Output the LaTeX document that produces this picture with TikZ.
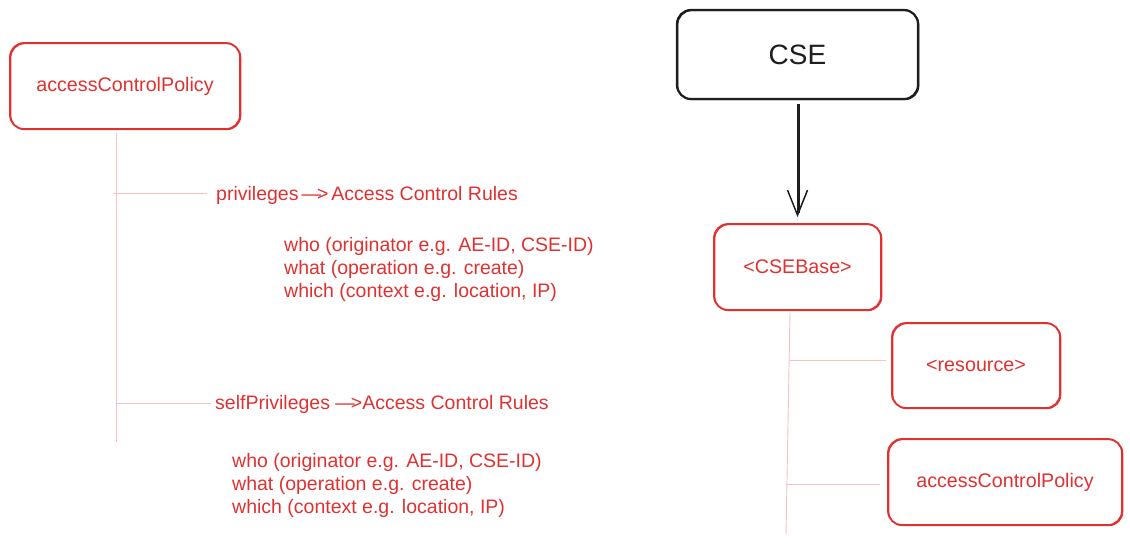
\documentclass[tikz,border=0pt]{standalone}
\usepackage{fontspec}
\setmainfont{Liberation Sans}
\usetikzlibrary{arrows.meta}
\definecolor{exred}{HTML}{E03131}
\definecolor{exdark}{HTML}{1E1E1E}
\newcommand{\arr}{{—}\kern-4pt>}
\begin{document}
\begin{tikzpicture}[x=1pt,y=-1pt,
 box/.style={draw=exred, text=exred, line width=1.8pt, rounded corners=14pt, inner sep=0pt, font=\fontsize{19.7}{23}\selectfont,
   preaction={draw, line width=0.9pt, transform canvas={shift={(0.9pt,-0.7pt)}}}},
 darkbox/.style={box, draw=exdark, text=exdark, line width=2.2pt, font=\fontsize{28}{32}\selectfont},
 tree/.style={draw=exred!30, line width=0.9pt},
 lbl/.style={text=exred, inner sep=0pt, anchor=west, font=\fontsize{19.5}{23}\selectfont, align=left},
 link/.style={exdark, line width=1.4pt},
]
\useasboundingbox (0,0) rectangle (1130,546);
% left column
\node[box, minimum width=230pt, minimum height=86pt] (acp) at (125,86) {accessControlPolicy};
\node[lbl] (priv) at (216,195) {privileges\kern3pt\arr\kern3pt Access Control Rules};
\node[lbl] (rules1) at (284,269) {who (originator e.g. AE-ID, CSE-ID)\\what (operation e.g. create)\\which (context e.g. location, IP)};
\node[lbl] (self) at (215,404) {selfPrivileges \arr Access Control Rules};
\node[lbl] (rules2) at (232,485) {who (originator e.g. AE-ID, CSE-ID)\\what (operation e.g. create)\\which (context e.g. location, IP)};
\coordinate (t1top) at (116,133);
\coordinate (t1bot) at (116,442);
\coordinate (b1) at (113,193);
\coordinate (b2) at (117,403);
\draw[tree] (t1top) -- (t1bot);
\draw[tree, shorten >=9pt] (b1) -- (b1 -| priv.west);
\draw[tree, shorten >=4pt] (b2) -- (b2 -| self.west);
% right column
\node[darkbox, minimum width=241pt, minimum height=89pt] (cse) at (797.5,54.5) {CSE};
\node[box, minimum width=167pt, minimum height=86pt] (csebase) at (797.5,267) {<CSEBase>};
\node[box, minimum width=168pt, minimum height=85pt] (res) at (976,365.5) {<resource>};
\node[box, minimum width=234pt, minimum height=86pt] (acp2) at (1005,482) {accessControlPolicy};
\draw[link, shorten <=4pt, shorten >=6pt, -{Straight Barb[length=25pt,width=20pt,line width=1.5pt]}] (cse.south) -- (csebase.north);
\draw[link, shorten <=4pt, shorten >=10pt] ([xshift=1.6pt]cse.south) -- ([xshift=1.6pt]csebase.north);
\coordinate (t2top) at (790,312);
\coordinate (t2bot) at (786,535);
\coordinate (b3) at (790,360);
\coordinate (b4) at (786,484);
\draw[tree] (t2top) -- (t2bot);
\draw[tree, shorten >=5pt] (b3) -- (b3 -| res.west);
\draw[tree, shorten >=7pt] (b4) -- (b4 -| acp2.west);
\end{tikzpicture}
\end{document}
